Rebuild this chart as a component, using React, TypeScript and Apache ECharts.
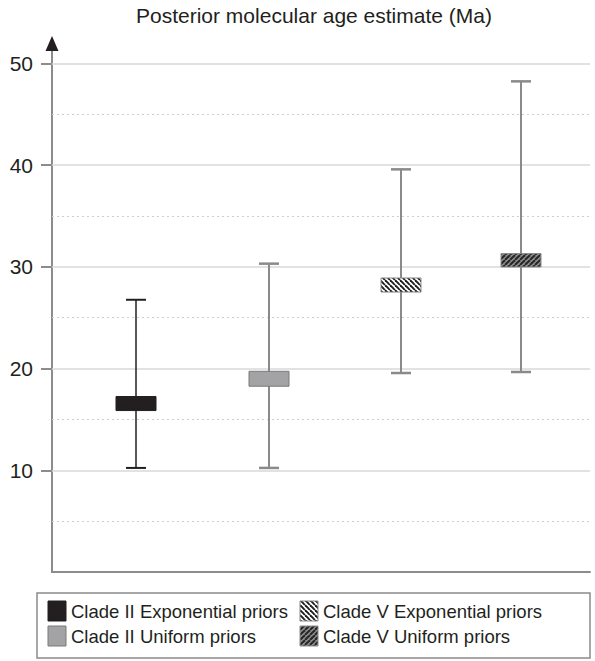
import React, { useEffect, useRef } from "react";
import * as echarts from "echarts";

const seriesNames = [
  "Clade II Exponential priors",
  "Clade II Uniform priors",
  "Clade V Exponential priors",
  "Clade V Uniform priors",
];
const whiskerLow = [10.23, 10.23, 19.56, 19.66];
const boxLow = [15.87, 18.26, 27.52, 29.98];
const boxHigh = [17.25, 19.73, 28.9, 31.3];
const whiskerHigh = [26.76, 30.31, 39.58, 48.23];
const xPositions = [0.156, 0.403, 0.649, 0.872];
const yTickLabels = [10, 20, 30, 40, 50];
const majorGrid = [10, 20, 30, 40, 50];
const minorGrid = [5, 15, 25, 35, 45];
const titleText = "Posterior molecular age estimate (Ma)";

const FONT = "'Liberation Sans', Arial, Helvetica, sans-serif";

function stripes(bg: string, fg: string, dir: "back" | "fwd", size: number, lw: number) {
  const c = document.createElement("canvas");
  c.width = size;
  c.height = size;
  const ctx = c.getContext("2d")!;
  ctx.fillStyle = bg;
  ctx.fillRect(0, 0, size, size);
  ctx.strokeStyle = fg;
  ctx.lineWidth = lw;
  for (let k = -1; k <= 1; k++) {
    ctx.beginPath();
    if (dir === "back") {
      ctx.moveTo(k * size, 0);
      ctx.lineTo(k * size + size, size);
    } else {
      ctx.moveTo(k * size, size);
      ctx.lineTo(k * size + size, 0);
    }
    ctx.stroke();
  }
  return { image: c.toDataURL(), repeat: "repeat", imageWidth: size, imageHeight: size } as any;
}

export default function App() {
  const ref = useRef<HTMLDivElement>(null);
  useEffect(() => {
    document.body.style.margin = "0";
    const chart = echarts.init(ref.current!, null, { renderer: "svg" });

    const fills: any[] = [
      "#231f20",
      "#a3a3a5",
      stripes("#ffffff", "#1e1e1e", "back", 5, 1.9),
      stripes("#8e8e8e", "#262626", "fwd", 5, 2.0),
    ];
    const borders = ["#231f20", "#7a7a7a", "#8a8a8a", "#8a8a8a"];
    const whiskerColors = ["#231f20", "#8a8a8a", "#8a8a8a", "#8a8a8a"];
    const whiskerWidths = [1.5, 2, 2, 2];
    const capWidths = [2, 2.5, 2.5, 2.5];

    const customSeries = seriesNames.map((name, i) => ({
      type: "custom",
      name,
      z: 5,
      data: [[xPositions[i], whiskerLow[i], boxLow[i], boxHigh[i], whiskerHigh[i]]],
      encode: { x: 0, y: [1, 2, 3, 4] },
      renderItem: (params: any, api: any) => {
        const x = api.value(0);
        const lo = api.coord([x, api.value(1)]);
        const q1 = api.coord([x, api.value(2)]);
        const q3 = api.coord([x, api.value(3)]);
        const hi = api.coord([x, api.value(4)]);
        const cx = Math.round(lo[0]);
        const boxW = 40;
        const capW = 20;
        const ls = { stroke: whiskerColors[i], lineWidth: whiskerWidths[i] };
        const cs = { stroke: whiskerColors[i], lineWidth: capWidths[i] };
        return {
          type: "group",
          children: [
            { type: "line", shape: { x1: cx, y1: hi[1], x2: cx, y2: lo[1] }, style: ls },
            { type: "line", shape: { x1: cx - capW / 2, y1: hi[1], x2: cx + capW / 2, y2: hi[1] }, style: cs },
            { type: "line", shape: { x1: cx - capW / 2, y1: lo[1], x2: cx + capW / 2, y2: lo[1] }, style: cs },
            {
              type: "rect",
              shape: { x: cx - boxW / 2, y: q3[1], width: boxW, height: q1[1] - q3[1] },
              style: { fill: fills[i], stroke: borders[i], lineWidth: 1 },
            },
          ],
        };
      },
    }));

    const gridSeries = {
      type: "line",
      name: "grid",
      data: [],
      z: 1,
      silent: true,
      markLine: {
        silent: true,
        symbol: ["none", "none"],
        label: { show: false },
        emphasis: { disabled: true },
        animation: false,
        data: [
          ...majorGrid.map((v) => ({ yAxis: v, lineStyle: { type: "solid", color: "#d9d9d9", width: 1.5 } })),
          ...minorGrid.map((v) => ({ yAxis: v, lineStyle: { type: [2, 3], color: "#cfcfcf", width: 1 } })),
        ],
      },
    };

    // Legend (drawn as graphics: two columns inside a bordered box)
    const colX = [48, 300];
    const rowY = [611, 636];
    const legendChildren: any[] = [
      {
        type: "rect",
        shape: { x: 37, y: 593, width: 553, height: 65 },
        style: { fill: "none", stroke: "#8a8a8a", lineWidth: 1.5 },
      },
    ];
    seriesNames.forEach((name, i) => {
      const col = i < 2 ? 0 : 1;
      const row = i % 2;
      legendChildren.push({
        type: "rect",
        shape: { x: colX[col], y: rowY[row] - 10, width: 18, height: 20 },
        style: { fill: fills[i], stroke: borders[i], lineWidth: 1 },
      });
      legendChildren.push({
        type: "text",
        x: colX[col] + 23,
        y: rowY[row],
        style: {
          text: name,
          fill: "#231f20",
          font: `18.5px ${FONT}`,
          textVerticalAlign: "middle",
          verticalAlign: "middle",
        },
      });
    });

    const option: any = {
      animation: false,
      backgroundColor: "#ffffff",
      title: {
        text: titleText,
        left: 136,
        top: 5,
        padding: 0,
        textStyle: { fontFamily: FONT, fontSize: 21, fontWeight: "normal", color: "#231f20" },
      },
      grid: { left: 52, right: 5, top: 43, bottom: 89, containLabel: false, outerBoundsMode: "none" },
      xAxis: {
        type: "value",
        min: 0,
        max: 1,
        axisLine: { show: true, lineStyle: { color: "#8c8c8c", width: 2 } },
        axisTick: { show: false },
        axisLabel: { show: false },
        splitLine: { show: false },
      },
      yAxis: {
        type: "value",
        min: 0,
        max: 52,
        interval: 10,
        axisLine: { show: true, lineStyle: { color: "#8c8c8c", width: 2 } },
        axisTick: {
          show: true,
          length: 11,
          customValues: yTickLabels,
          lineStyle: { color: "#8c8c8c", width: 2 },
        },
        axisLabel: {
          customValues: yTickLabels,
          margin: 19,
          fontFamily: FONT,
          fontSize: 21,
          color: "#231f20",
          formatter: (v: number) => (yTickLabels.includes(v) ? String(v) : ""),
        },
        splitLine: { show: false },
      },
      series: [gridSeries, ...customSeries],
      graphic: [{ type: "group", children: legendChildren }],
    };
    chart.setOption(option);

    const top = chart.convertToPixel({ gridIndex: 0 } as any, [0, 52]) as number[];
    const ax = top[0];
    const ay = top[1];
    chart.setOption({
      graphic: [
        { type: "group", children: legendChildren },
        {
          type: "polygon",
          shape: { points: [[ax, ay - 7], [ax - 6.5, ay + 8], [ax + 6.5, ay + 8]] },
          style: { fill: "#231f20" },
          z: 10,
        },
      ],
    });

    return () => chart.dispose();
  }, []);
  return <div ref={ref} style={{ width: 595, height: 661 }} />;
}
